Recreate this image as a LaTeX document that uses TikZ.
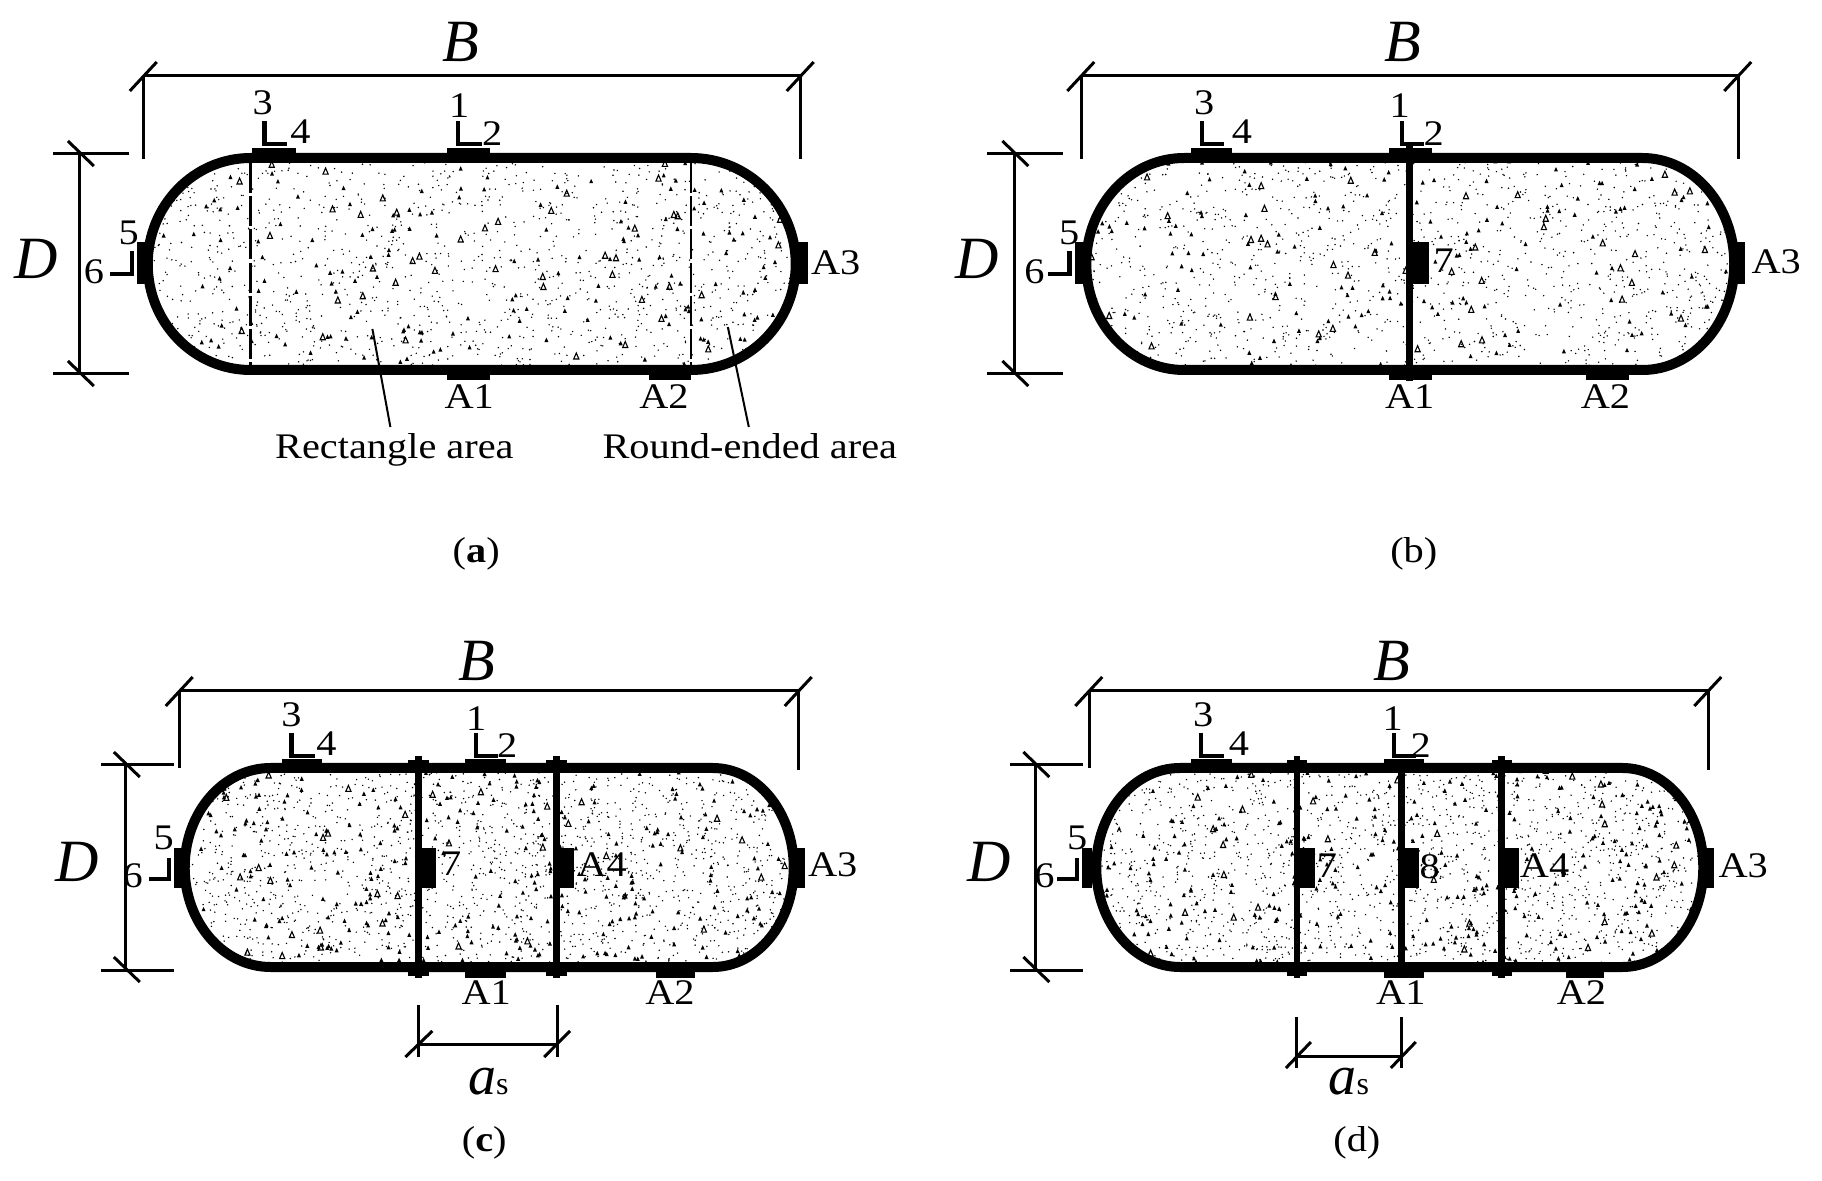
\documentclass[tikz,border=0pt]{standalone}
\usepackage{fontspec}
\setmainfont[FakeStretch=1.12]{Liberation Serif}
\newfontfamily\dimfont{Liberation Serif}
\tikzset{
  lbl/.style={inner sep=0pt,font=\fontsize{18}{20}\selectfont},
  biglbl/.style={inner sep=0pt,font=\fontsize{30}{32}\dimfont\itshape},
  thin line/.style={line width=1.5pt},
  shell/.style={line width=5pt,line join=round},
  lmark/.style={line width=2.2pt,line join=miter},
  webline/.style={line width=3.4pt},
  leader/.style={line width=1pt},
  splitline/.style={line width=1.2pt,dash pattern=on 15pt off 1.6pt}
}
% capsule outline: xl xsL xsR xr ytop ybot
\newcommand\capspath[6]{
  (#2,#5) -- (#3,#5)
  .. controls ({#3+0.5523*(#4-#3)},#5) and (#4,{#5+0.2239*(#6-#5)}) .. (#4,{0.5*(#5+#6)})
  .. controls (#4,{#6-0.2239*(#6-#5)}) and ({#3+0.5523*(#4-#3)},#6) .. (#3,#6)
  -- (#2,#6)
  .. controls ({#2-0.5523*(#2-#1)},#6) and (#1,{#6-0.2239*(#6-#5)}) .. (#1,{0.5*(#5+#6)})
  .. controls (#1,{#5+0.2239*(#6-#5)}) and ({#2-0.5523*(#2-#1)},#5) .. (#2,#5) -- cycle}
% speckle: xmin xmax ymin ymax ndots nopen nsolid
\newcommand\speckle[7]{
  \foreach \i in {1,...,#5}{
    \pgfmathsetmacro\px{#1+rnd*(#2-#1)}\pgfmathsetmacro\py{#3+rnd*(#4-#3)}
    \fill (\px,\py) circle[radius=0.8];}
  \foreach \i in {1,...,#6}{
    \pgfmathsetmacro\px{#1+rnd*(#2-#1)}\pgfmathsetmacro\py{#3+rnd*(#4-#3)}
    \draw[line width=.55pt] (\px,\py) -- +(2.6,-6) -- +(5.2,0) -- cycle;}
  \foreach \i in {1,...,#7}{
    \pgfmathsetmacro\px{#1+rnd*(#2-#1)}\pgfmathsetmacro\py{#3+rnd*(#4-#3)}
    \fill (\px,\py) -- +(2,-4.4) -- +(4,0) -- cycle;}
}
\newcommand\capsule[9]{
  \begin{scope}
    \clip \capspath{#1}{#2}{#3}{#4}{#5}{#6};
    \speckle{#1}{#4}{#5}{#6}{#7}{#8}{#9}
  \end{scope}
}
\newcommand\lab[4]{\node[lbl] (#1) at (#2,#3) {#4};}
% horizontal dimension: name xl xr y yendl yendr
\newcommand\Bdim[6]{
  \coordinate (#1l) at (#2,#4); \coordinate (#1r) at (#3,#4);
  \coordinate (#1le) at (#2,#5); \coordinate (#1re) at (#3,#6);
  \draw[thin line] (#1l) -- (#1r);
  \draw[thin line] (#1l) -- (#1le); \draw[thin line] (#1r) -- (#1re);
  \draw[thin line] ([shift={(-14,15)}]#1l) -- ([shift={(13,-14)}]#1l);
  \draw[thin line] ([shift={(-14,15)}]#1r) -- ([shift={(13,-14)}]#1r);
}
% vertical dimension: name x xl xr ytop ybot
\newcommand\Ddim[6]{
  \coordinate (#1t) at (#2,#5); \coordinate (#1b) at (#2,#6);
  \draw[thin line] (#1t) -- (#1b);
  \draw[thin line] (#3,#5) -- (#4,#5); \draw[thin line] (#3,#6) -- (#4,#6);
  \draw[thin line] ([shift={(-12,-13)}]#1t) -- ([shift={(14,12)}]#1t);
  \draw[thin line] ([shift={(-12,-13)}]#1b) -- ([shift={(14,12)}]#1b);
}
\newcommand\pad[4]{\fill (#1,#2) rectangle (#3,#4);}
\newcommand\Lm[4]{\draw[lmark] (#1,#2) -- (#1,#3) -- (#4,#3);}
\begin{document}
\begin{tikzpicture}[x=0.5pt,y=-0.5pt]
\useasboundingbox (0,0) rectangle (1822,1181);
\fill[white] (0,0) rectangle (1822,1181);
\pgfmathsetseed{4711}
\begin{scope}[xshift=-0.5pt,x=0.4992pt]
% ---------- (a)
\capsule{149}{252}{693}{798}{158}{370}{1300}{45}{170}
\draw[splitline] (252,163) -- (252,367);
\draw[splitline] (693,163) -- (693,367);
\draw[shell] \capspath{149}{252}{693}{798}{158}{370};
\pad{253}{148}{297}{156}\pad{449}{148}{492}{156}
\pad{449}{372}{492}{380}\pad{651}{372}{693}{380}
\pad{138}{242}{148}{284}\pad{800}{242}{810}{284}
\Lm{266}{121}{144}{288}\Lm{460}{121}{144}{484}\Lm{133}{251}{274}{111}
\Bdim{ba}{145}{803}{76}{159}{159}
\Ddim{da}{81}{54}{130}{154}{374}
\node[biglbl] (Ba) at (463,42) {B};
\node[biglbl] (Da) at (37,259) {D};
\lab{a3l}{264}{103}{3}\lab{a4l}{302}{132}{4}\lab{a1l}{461}{106}{1}\lab{a2l}{494}{134}{2}
\lab{a5l}{130}{233}{5}\lab{a6l}{95}{272}{6}\lab{aA3}{838}{263}{A3}
\lab{aA1}{471}{397}{A1}\lab{aA2}{666}{397}{A2}
\lab{arect}{396}{450}{Rectangle area}
\lab{around}{752}{446}{Round-ended area}
\coordinate (rectend) at (374,329); \coordinate (roundend) at (730,327);
\draw[leader] (rectend) -- (392,427);
\draw[leader] (roundend) -- (751,427);
\lab{capa}{478}{554}{(\textbf{a})}
% ---------- (b)
\capsule{1089}{1187}{1646}{1738}{158}{370}{1300}{45}{170}
\draw[shell] \capspath{1089}{1187}{1646}{1738}{158}{370};
\pad{1194}{148}{1235}{156}\pad{1392}{148}{1435}{156}
\pad{1392}{372}{1435}{380}\pad{1590}{372}{1633}{380}
\pad{1078}{242}{1088}{284}\pad{1740}{242}{1749}{284}
\draw[webline] (1413,146) -- (1413,381);
\pad{1416}{242}{1432}{284}
\Lm{1205}{121}{144}{1227}\Lm{1405}{121}{144}{1427}\Lm{1072}{251}{274}{1051}
\Bdim{bb}{1084}{1742}{76}{159}{159}
\Ddim{db}{1017}{990}{1066}{154}{374}
\node[biglbl] (Bb) at (1406,42) {B};
\node[biglbl] (Db) at (980,259) {D};
\lab{b3l}{1207}{103}{3}\lab{b4l}{1245}{132}{4}\lab{b1l}{1403}{106}{1}\lab{b2l}{1437}{134}{2}
\lab{b5l}{1072}{233}{5}\lab{b6l}{1037}{272}{6}\lab{bA3}{1780}{262}{A3}
\lab{b7l}{1447}{261}{7}
\lab{bA1}{1413}{397}{A1}\lab{bA2}{1609}{397}{A2}
\lab{capb}{1417}{554}{(b)}
% ---------- (c)
\capsule{186}{272}{715}{796}{768}{967}{1700}{35}{330}
\draw[shell] \capspath{186}{272}{715}{796}{768}{967};
\pad{283}{759}{324}{767}\pad{467}{759}{508}{767}
\pad{467}{968}{508}{978}\pad{658}{968}{697}{978}
\pad{175}{848}{185}{888}\pad{799}{848}{807}{888}
\draw[webline] (420,756) -- (420,978); \pad{410}{760}{431}{767}\pad{410}{968}{431}{976}
\draw[webline] (558,756) -- (558,978); \pad{548}{760}{569}{767}\pad{548}{968}{569}{976}
\pad{423}{848}{438}{888}\pad{561}{848}{576}{888}
\Lm{293}{733}{756}{316}\Lm{478}{733}{756}{500}\Lm{170}{858}{879}{150}
\Bdim{bc}{181}{801}{691}{768}{770}
\Ddim{dc}{127}{102}{175}{765}{970}
\node[biglbl] (Bc) at (479,661) {B};
\node[biglbl] (Dc) at (78,862) {D};
\lab{c3l}{293}{715}{3}\lab{c4l}{328}{744}{4}\lab{c1l}{478}{719}{1}\lab{c2l}{509}{746}{2}
\lab{c5l}{165}{838}{5}\lab{c6l}{134}{876}{6}\lab{cA3}{835}{865}{A3}
\lab{c7l}{453}{864}{7}\lab{cA4}{604}{865}{A4}
\lab{cA1}{488}{993}{A1}\lab{cA2}{672}{993}{A2}
\coordinate (asc1) at (420,1044); \coordinate (asc2) at (559,1044);
\draw[thin line] (asc1) -- (asc2);
\draw[thin line] (420,1005) -- (420,1057); \draw[thin line] (559,1005) -- (559,1057);
\draw[thin line] ([shift={(-13,13)}]asc1) -- ([shift={(14,-13)}]asc1);
\draw[thin line] ([shift={(-13,13)}]asc2) -- ([shift={(13,-13)}]asc2);
\node[inner sep=0pt] (asc) at (490,1082) {\fontsize{28}{30}\dimfont\itshape a\fontsize{16}{18}\upshape s};
\lab{capc}{486}{1143}{(\textbf{c})}
% ---------- (d)
\capsule{1099}{1183}{1626}{1707}{768}{967}{1700}{35}{330}
\draw[shell] \capspath{1099}{1183}{1626}{1707}{768}{967};
\pad{1194}{759}{1235}{767}\pad{1387}{759}{1427}{767}
\pad{1387}{968}{1427}{978}\pad{1569}{968}{1608}{978}
\pad{1085}{848}{1095}{888}\pad{1710}{848}{1718}{888}
\draw[webline] (1300,756) -- (1300,978); \pad{1290}{760}{1310}{767}\pad{1290}{968}{1310}{976}
\draw[webline] (1405,762) -- (1405,978);
\draw[webline] (1505,756) -- (1505,978); \pad{1495}{760}{1515}{767}\pad{1495}{968}{1515}{976}
\pad{1303}{848}{1318}{888}\pad{1408}{848}{1422}{888}\pad{1508}{848}{1522}{888}
\Lm{1204}{733}{756}{1227}\Lm{1397}{733}{756}{1419}\Lm{1080}{858}{879}{1060}
\Bdim{bd}{1092}{1712}{691}{768}{770}
\Ddim{dd}{1038}{1013}{1086}{765}{970}
\node[biglbl] (Bd) at (1395,661) {B};
\node[biglbl] (Dd) at (992,862) {D};
\lab{d3l}{1206}{715}{3}\lab{d4l}{1242}{744}{4}\lab{d1l}{1396}{719}{1}\lab{d2l}{1424}{746}{2}
\lab{d5l}{1080}{838}{5}\lab{d6l}{1047}{876}{6}\lab{dA3}{1747}{866}{A3}
\lab{d7l}{1330}{866}{7}\lab{d8l}{1433}{867}{8}\lab{dA4}{1548}{866}{A4}
\lab{dA1}{1404}{993}{A1}\lab{dA2}{1585}{993}{A2}
\coordinate (asd1) at (1300,1056); \coordinate (asd2) at (1405,1056);
\draw[thin line] (asd1) -- (asd2);
\draw[thin line] (1300,1017) -- (1300,1068); \draw[thin line] (1405,1017) -- (1405,1068);
\draw[thin line] ([shift={(-11,12)}]asd1) -- ([shift={(14,-14)}]asd1);
\draw[thin line] ([shift={(-11,12)}]asd2) -- ([shift={(14,-14)}]asd2);
\node[inner sep=0pt] (asd) at (1352,1082) {\fontsize{28}{30}\dimfont\itshape a\fontsize{16}{18}\upshape s};
\lab{capd}{1360}{1143}{(d)}
\end{scope}
\end{tikzpicture}
\end{document}
